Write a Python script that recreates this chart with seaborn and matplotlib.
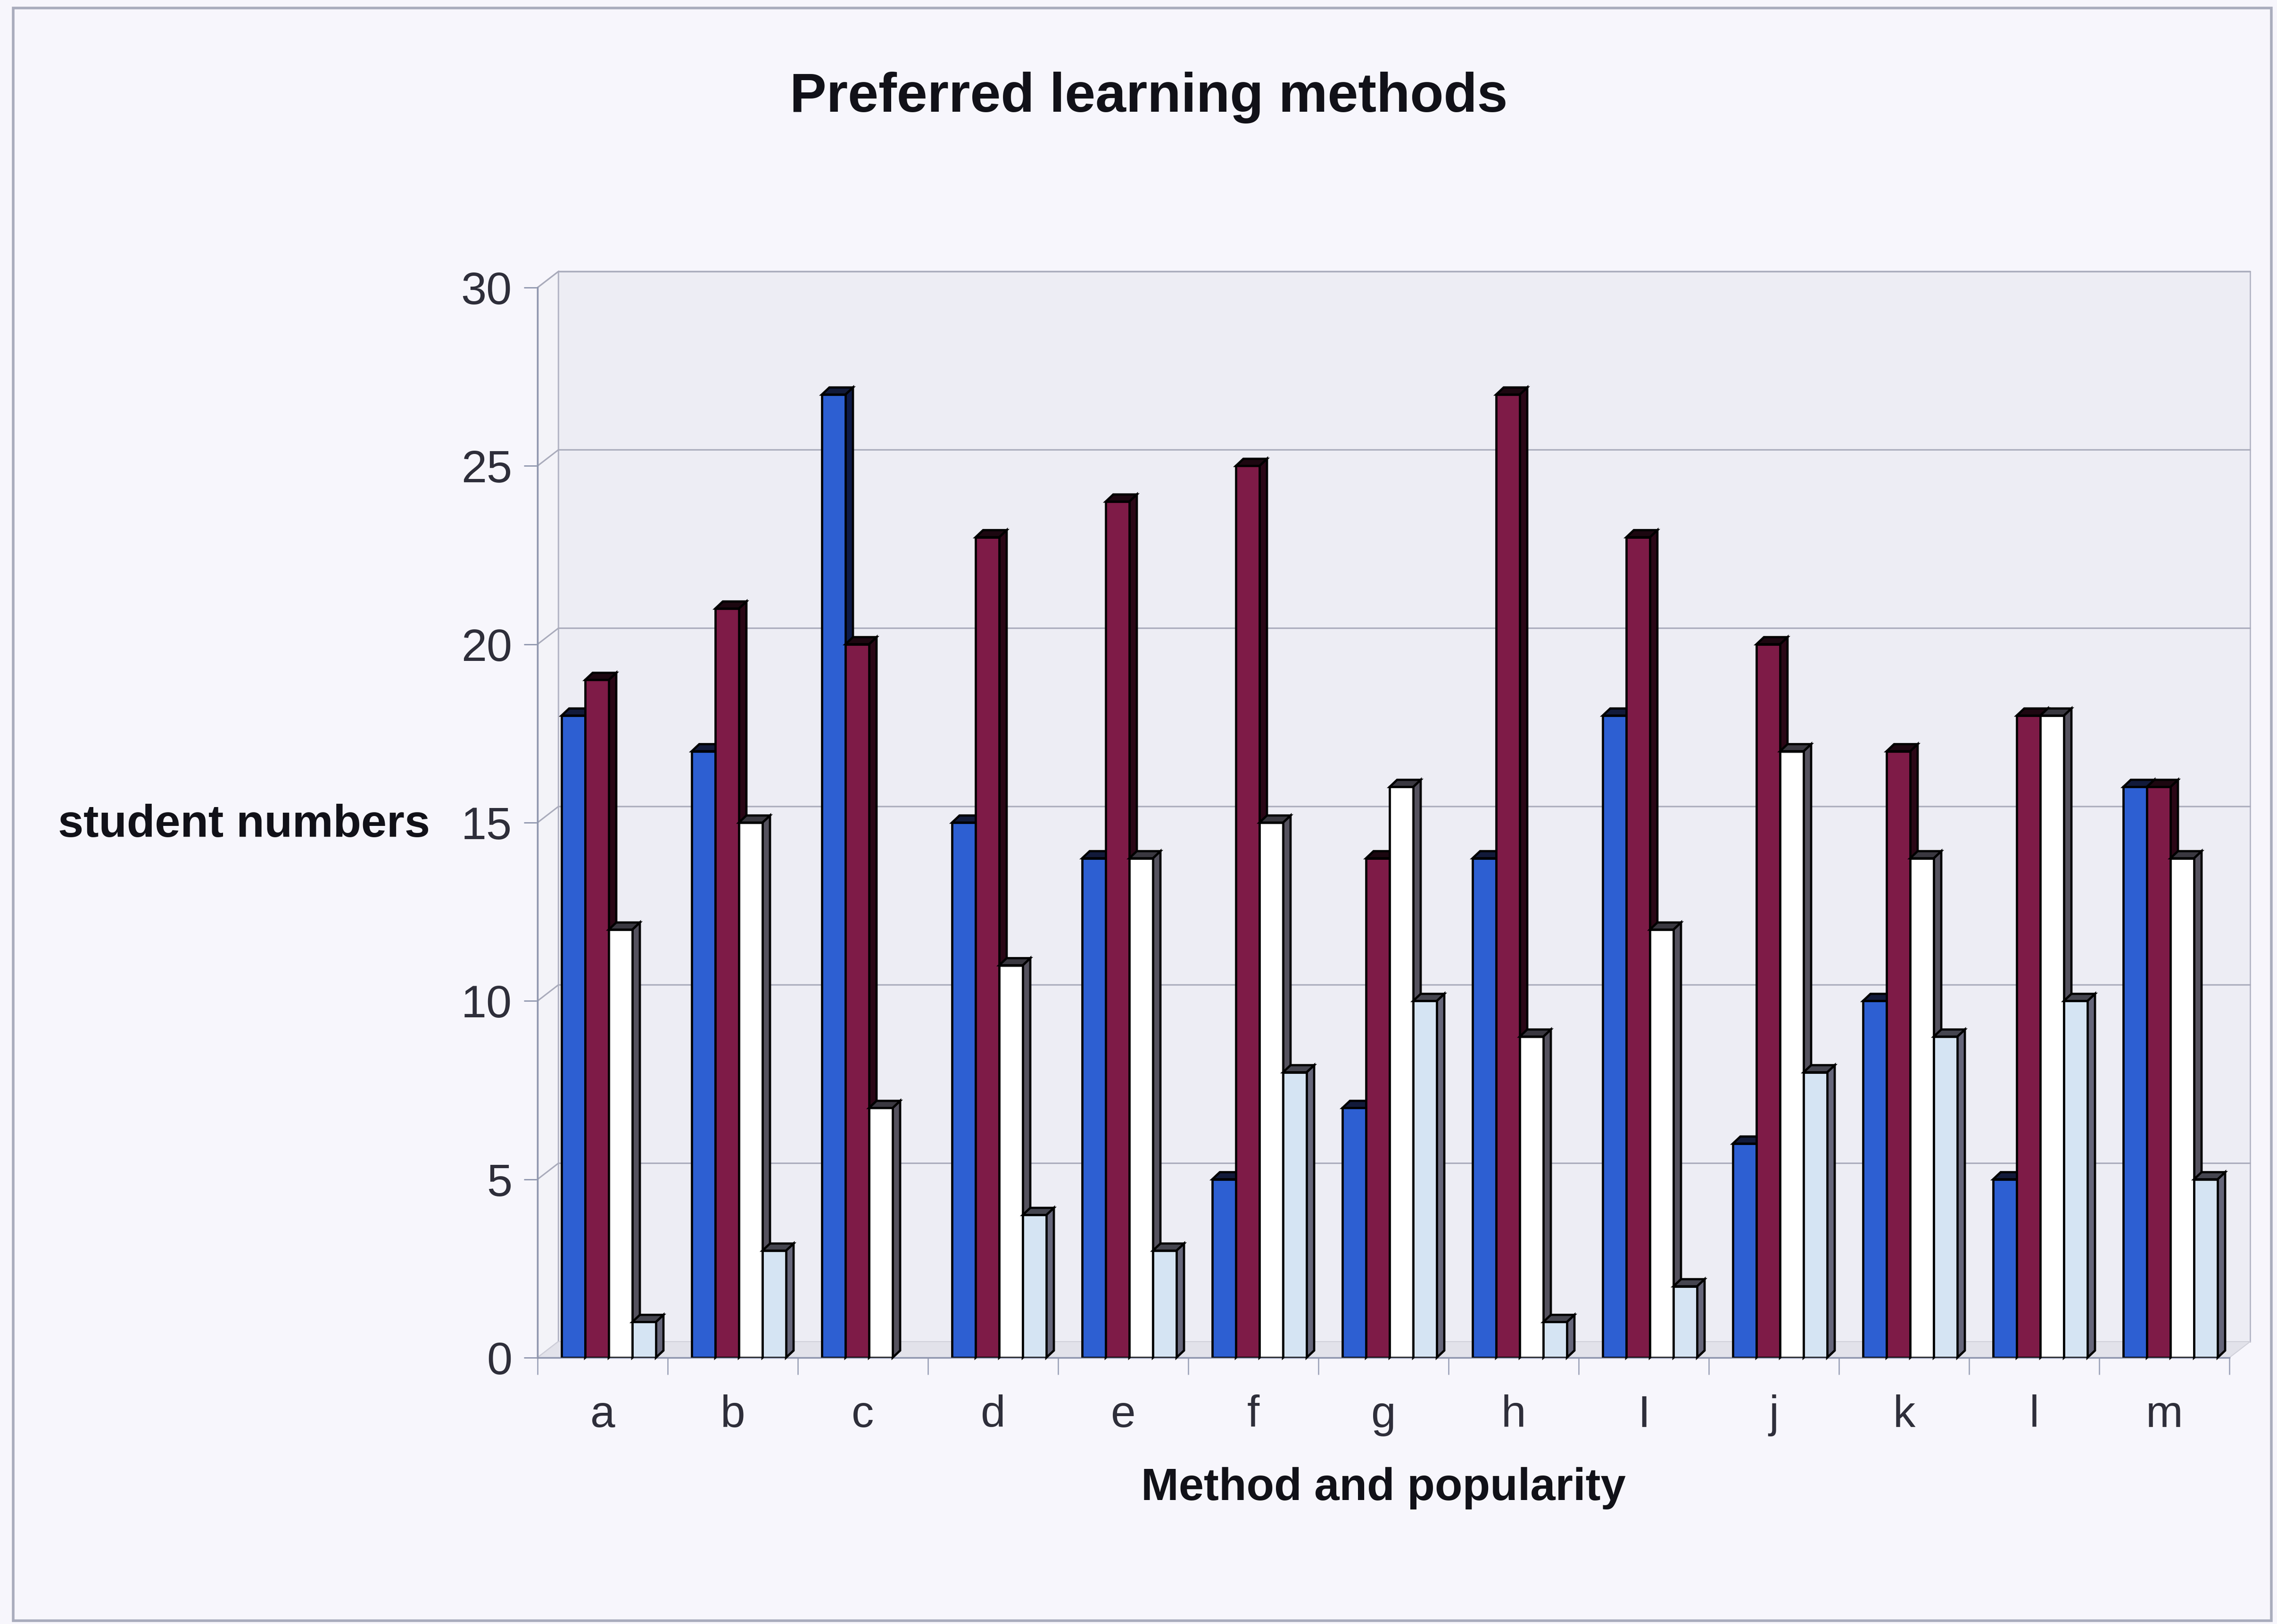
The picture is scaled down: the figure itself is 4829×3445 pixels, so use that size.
import numpy as np
import pandas as pd
import matplotlib
matplotlib.use("Agg")
import matplotlib.pyplot as plt
from matplotlib.patches import Polygon, Rectangle
import seaborn as sns

# ---- data -------------------------------------------------------------
methods = ["a", "b", "c", "d", "e", "f", "g", "h", "I", "j", "k", "l", "m"]
rank_1 = [18, 17, 27, 15, 14, 5, 7, 14, 18, 6, 10, 5, 16]
rank_2 = [19, 21, 20, 23, 24, 25, 14, 27, 23, 20, 17, 18, 16]
rank_3 = [12, 15, 7, 11, 14, 15, 16, 9, 12, 17, 14, 18, 14]
rank_4 = [1, 3, 0, 4, 3, 8, 10, 1, 2, 8, 9, 10, 5]
series_names = ["1st", "2nd", "3rd", "4th"]
yticks = [0, 5, 10, 15, 20, 25, 30]

front_colors = ["#2d5fd2", "#7e1b47", "#ffffff", "#d5e4f3"]
side_colors = ["#0e1a48", "#2a0716", "#55525e", "#66667a"]
top_colors = ["#121a3a", "#1c0710", "#3a3840", "#45454f"]

df = pd.DataFrame({
    "method": methods * 4,
    "count": rank_1 + rank_2 + rank_3 + rank_4,
    "rank": [s for s in series_names for _ in methods],
})

# ---- figure -------------------------------------------------------------
sns.set_style("white")
plt.rcParams["font.family"] = ["Liberation Sans", "DejaVu Sans"]

W, H = 4829, 3445
fig = plt.figure(figsize=(W / 100, H / 100), dpi=100, facecolor="#f7f6fc")

x_left, x_right, y_zero, y_top = 1140, 4728, 2880, 610
ax = fig.add_axes([x_left / W, 1 - y_zero / H, (x_right - x_left) / W, (y_zero - y_top) / H])
ax.set_facecolor("none")

# depth of the chart box (back wall offset) and of each bar
wall_dx, wall_dy = 0.16, 0.45
bar_dx, bar_dy = 0.058, 0.2
n = len(methods)

# back wall, side wall and floor
ax.add_patch(Polygon([(-0.5 + wall_dx, wall_dy), (n - 0.5 + wall_dx, wall_dy),
                      (n - 0.5 + wall_dx, 30 + wall_dy), (-0.5 + wall_dx, 30 + wall_dy)],
                     closed=True, facecolor="#ededf4", edgecolor="#b4b6c6", lw=2,
                     clip_on=False, zorder=0.5))
ax.add_patch(Polygon([(-0.5, 0), (-0.5 + wall_dx, wall_dy), (-0.5 + wall_dx, 30 + wall_dy), (-0.5, 30)],
                     closed=True, facecolor="#f3f3f8", edgecolor="#b4b6c6", lw=2,
                     clip_on=False, zorder=0.6))
ax.add_patch(Polygon([(-0.5, 0), (n - 0.5, 0), (n - 0.5 + wall_dx, wall_dy), (-0.5 + wall_dx, wall_dy)],
                     closed=True, facecolor="#e2e2ea", edgecolor="#d0d0da", lw=1.5,
                     clip_on=False, zorder=0.6))

# gridlines on the walls
for v in yticks[1:]:
    ax.plot([-0.5, -0.5 + wall_dx, n - 0.5 + wall_dx], [v, v + wall_dy, v + wall_dy],
            color="#a9abbb", lw=2.2, clip_on=False, zorder=0.8)

# bars
sns.barplot(data=df, x="method", y="count", hue="rank", hue_order=series_names,
            order=methods, palette=front_colors, width=0.725, dodge=True,
            edgecolor="black", linewidth=3.4, legend=False, saturation=1, ax=ax)

shift = 0.047
for k, cont in enumerate(ax.containers):
    for bar in cont:
        bar.set_x(bar.get_x() + shift)
        bar.set_zorder(3 + k * 0.1 + 0.05)
        h = bar.get_height()
        if h <= 0:
            bar.set_visible(False)
            continue
        x0 = bar.get_x()
        x1 = x0 + bar.get_width()
        side = Polygon([(x1, 0), (x1 + bar_dx, bar_dy), (x1 + bar_dx, h + bar_dy), (x1, h)],
                       closed=True, facecolor=side_colors[k], edgecolor="black", lw=3.4,
                       zorder=3 + k * 0.1, clip_on=False)
        top = Polygon([(x0, h), (x1, h), (x1 + bar_dx, h + bar_dy), (x0 + bar_dx, h + bar_dy)],
                      closed=True, facecolor=top_colors[k], edgecolor="black", lw=3.4,
                      zorder=3 + k * 0.1, clip_on=False)
        ax.add_patch(side)
        ax.add_patch(top)

# ---- axes ---------------------------------------------------------------
ax.set_xlim(-0.5, n - 0.5)
ax.set_ylim(0, 30)
ax.set_yticks(yticks)
ax.set_xticks(range(n))
ax.set_xticklabels(methods)
ax.set_xticks(np.arange(-0.5, n, 1), minor=True)

for s in ["top", "right"]:
    ax.spines[s].set_visible(False)
for s in ["left", "bottom"]:
    ax.spines[s].set_color("#8f96ae")
    ax.spines[s].set_linewidth(2.5)
    ax.spines[s].set_zorder(1)

ax.tick_params(axis="y", which="major", length=21, width=2, color="#8f96ae",
               pad=18, labelsize=70, labelcolor="#2e2e3a", left=True)
ax.tick_params(axis="x", which="major", length=0, pad=56, labelsize=68, labelcolor="#2e2e3a")
ax.tick_params(axis="x", which="minor", length=26, width=2, color="#a0a6bc", bottom=True)

ax.set_xlabel("")
ax.set_ylabel("")

# ---- text ---------------------------------------------------------------
fig.text(2436 / W, 1 - 237 / H, "Preferred learning methods", ha="center", va="baseline",
         fontsize=84, fontweight="bold", color="#111118")
fig.text(2934 / W, 1 - 3182 / H, "Method and popularity", ha="center", va="baseline",
         fontsize=69, fontweight="bold", color="#111118")
fig.text(123 / W, 1 - 1750 / H, "student numbers", ha="left", va="center",
         fontsize=70, fontweight="bold", color="#111118")

# frame round the whole chart
fig.patches.append(Rectangle((28 / W, 7 / H), (4817 - 28) / W, (3433 - 12) / H,
                             transform=fig.transFigure, facecolor="none",
                             edgecolor="#a9acbd", lw=4, zorder=0))

fig.savefig("out.png", dpi=100, facecolor=fig.get_facecolor())
